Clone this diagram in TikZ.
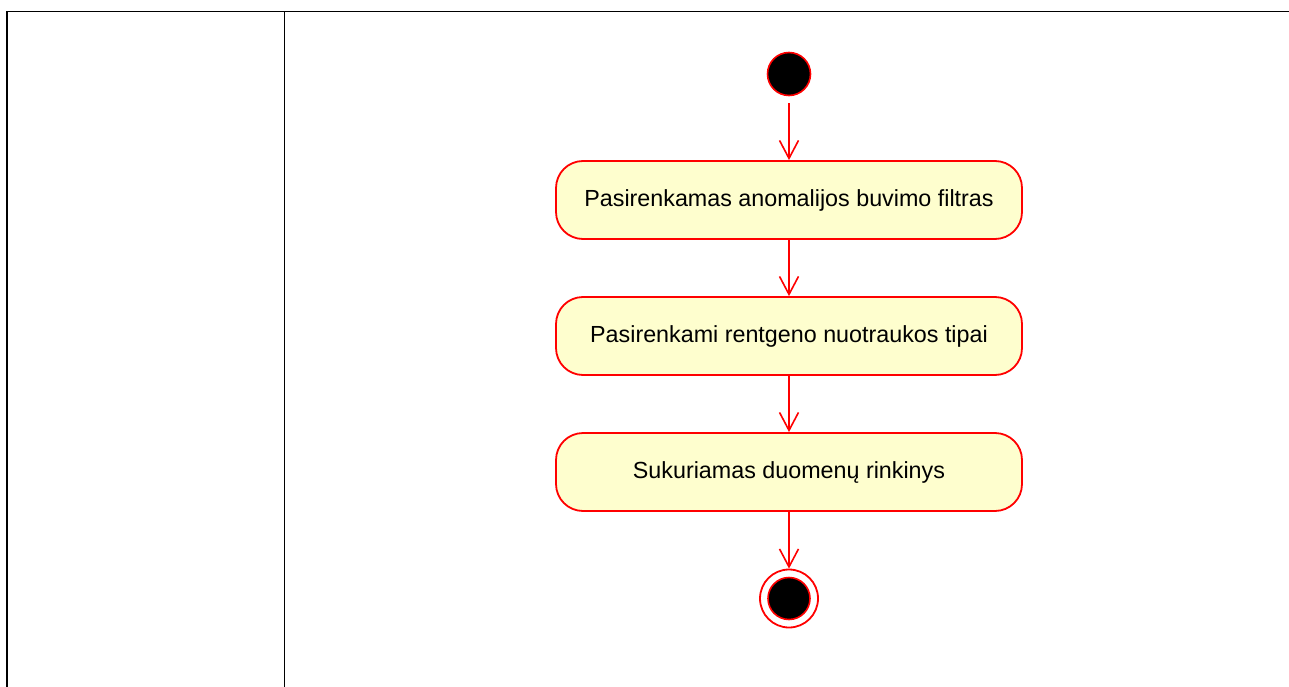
\documentclass[tikz,border=0pt]{standalone}
\usepackage{fontspec}
\setmainfont{Liberation Sans}
\usetikzlibrary{arrows.meta}
\definecolor{actfill}{HTML}{FEFECE}
\definecolor{actline}{HTML}{FF0000}
\tikzset{
  activity/.style={draw=actline, fill=actfill, line width=1.8pt, rounded corners=27pt,
    minimum width=466pt, minimum height=78pt, inner sep=0pt,
    font=\fontsize{23.3}{28}\selectfont},
  flow/.style={draw=actline, line width=1.6pt, -{Straight Barb[length=18pt,width=19pt,line width=1.6pt]}},
  frameline/.style={draw=black, line width=1.8pt},
}
\begin{document}
\begin{tikzpicture}[x=1pt,y=-1pt]
  \useasboundingbox (0,0) rectangle (1289,687);
  % swimlane frame
  \coordinate (tl) at (7,11.5);
  \coordinate (tr) at (1289,11.5);
  \coordinate (bl) at (7,687);
  \coordinate (sepT) at (284.5,11.5);
  \coordinate (sepB) at (284.5,687);
  \draw[frameline] (bl) -- (tl) -- (tr);
  \draw[frameline] (sepT) -- (sepB);
  % start node
  \node[circle, draw=actline, fill=black, line width=1.6pt, minimum size=43pt, inner sep=0pt] (start) at (789,74) {};
  % activities
  \node[activity] (a1) at (789,200) {Pasirenkamas anomalijos buvimo filtras};
  \node[activity] (a2) at (789,336) {Pasirenkami rentgeno nuotraukos tipai};
  \node[activity] (a3) at (789,472) {Sukuriamas duomenų rinkinys};
  % end node
  \node[circle, draw=actline, fill=white, line width=1.8pt, minimum size=58pt, inner sep=0pt] (stop) at (789,598.5) {};
  \node[circle, draw=actline, fill=black, line width=1.6pt, minimum size=42pt, inner sep=0pt] (stopin) at (stop.center) {};
  % flows
  \draw[flow] ([yshift=-7pt]start.south) -- (a1.north);
  \draw[flow] (a1.south) -- (a2.north);
  \draw[flow] (a2.south) -- (a3.north);
  \draw[flow] (a3.south) -- (stop.north);
\end{tikzpicture}
\end{document}
